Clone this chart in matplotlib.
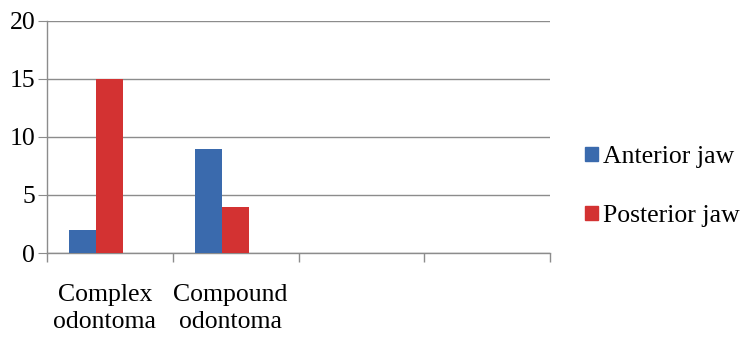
import numpy as np
import matplotlib.pyplot as plt
from matplotlib.patches import Patch

categories = ["Complex\nodontoma", "Compound\nodontoma", "", ""]
anterior = [2, 9, 0, 0]
posterior = [15, 4, 0, 0]
series_names = ["Anterior jaw", "Posterior jaw"]
colors = ["#3a6aad", "#d33232"]

plt.rcParams["font.family"] = ["Liberation Serif", "DejaVu Serif"]

fig = plt.figure(figsize=(7.55, 3.44), dpi=100)
ax = fig.add_axes([47 / 755, 1 - 253 / 344, (550 - 47) / 755, (253 - 21) / 344])

x = np.arange(len(categories))
w = 0.215
start = x - 0.5 + 0.175
ax.bar(start[:2], anterior[:2], width=w, align="edge", color=colors[0], zorder=3)
ax.bar(start[:2] + w, posterior[:2], width=w, align="edge", color=colors[1], zorder=3)

ax.set_xlim(-0.5, len(categories) - 0.5)
ax.set_ylim(0, 20)
ax.set_yticks([0, 5, 10, 15, 20])
ax.yaxis.grid(True, color="#8c8c8c", linewidth=1.0)
ax.set_axisbelow(True)

# category boundaries as ticks, labels centred in each slot
ax.set_xticks(np.arange(len(categories) + 1) - 0.5)
ax.set_xticklabels([])
ax.set_xticks(x - 0.04, minor=True)
ax.set_xticklabels(categories, minor=True, fontsize=18.5, linespacing=1.3)
ax.tick_params(axis="x", which="minor", length=0, pad=22)
ax.tick_params(axis="x", which="major", length=6.5, color="#8c8c8c", width=1.0)
ax.tick_params(axis="y", length=6.5, color="#8c8c8c", labelsize=18.5, pad=2)

for s in ["top", "right"]:
    ax.spines[s].set_visible(False)
for s in ["left", "bottom"]:
    ax.spines[s].set_color("#8c8c8c")
    ax.spines[s].set_linewidth(1.0)

handles = [Patch(color=c, label=n) for c, n in zip(colors, series_names)]
fig.legend(handles=handles, loc="upper left", bbox_to_anchor=(585 / 755, 1 - 146 / 344),
           frameon=False, fontsize=18.5, handlelength=0.5, handleheight=0.5,
           handletextpad=0.2, labelspacing=1.45, borderpad=0, borderaxespad=0)

fig.savefig("out.png", dpi=100)
